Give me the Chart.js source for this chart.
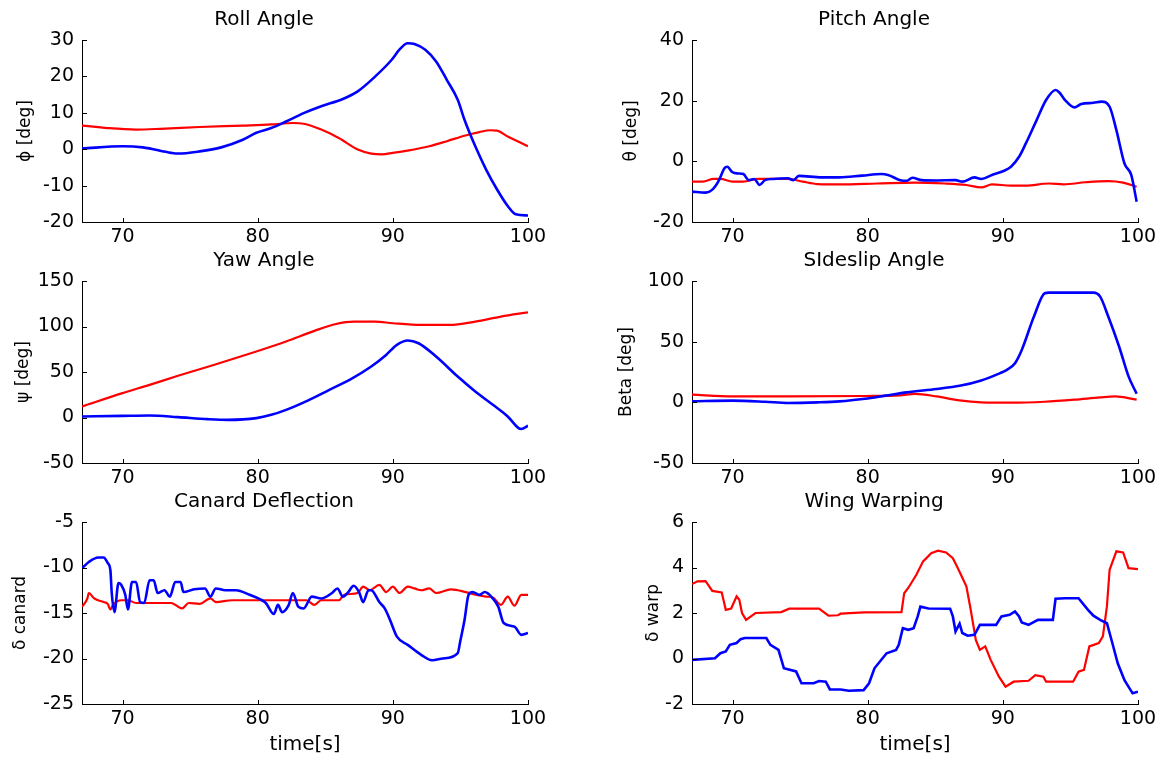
<!DOCTYPE html>
<html lang="en">
<head>
<meta charset="UTF-8">
<title>Flight data</title>
<script src="https://cdn.jsdelivr.net/npm/chart.js"></script>
<style>
  html, body { margin: 0; padding: 0; background: #fff; overflow: hidden; }
  body { width: 1164px; height: 761px; position: relative; }
  .panel { position: absolute; }
</style>
</head>
<body>

<div class="panel" style="left:0px;top:0px"><canvas id="roll" width="556" height="252"></canvas></div>
<div class="panel" style="left:610px;top:0px"><canvas id="pitch" width="556" height="252"></canvas></div>
<div class="panel" style="left:0px;top:241px"><canvas id="yaw" width="556" height="252"></canvas></div>
<div class="panel" style="left:610px;top:241px"><canvas id="sideslip" width="556" height="252"></canvas></div>
<div class="panel" style="left:0px;top:482px"><canvas id="canard" width="556" height="277"></canvas></div>
<div class="panel" style="left:610px;top:482px"><canvas id="warp" width="556" height="277"></canvas></div>

<script>
// x axis (time) shared by all panels
const timeMin = 67;
const timeMax = 100;
const timeTicks = [70, 80, 90, 100];

// Roll angle
const rollTicks = [-20, -10, 0, 10, 20, 30];
const rollBlueT = [67, 70, 71.5, 73.6, 74.1, 75.7, 77.3, 78.9, 79.9, 81, 82.1, 83.4, 84.7, 86.3, 87.4, 88.7, 89.9, 90.5, 91.1, 91.6, 92.4, 93.2, 94, 94.8, 95.3, 96.1, 96.9, 97.7, 98.5, 99.1, 100];
const rollBlue = [0.2, 0.8, 0.5, -1.0, -1.2, -0.6, 0.5, 2.6, 4.5, 5.8, 7.6, 9.9, 11.8, 13.8, 15.9, 20, 24.5, 27.4, 29.1, 28.9, 27.3, 24.1, 19, 13.6, 8.1, 0.8, -5.6, -11, -15.6, -17.9, -18.2];
const rollRedT = [67, 68.9, 71, 72.8, 75.7, 78.9, 81, 82.6, 83.4, 84.7, 86, 87.4, 88.4, 89.2, 90, 91.1, 92.7, 94, 95.3, 96.4, 97.2, 97.7, 98.5, 100];
const rollRed = [6.5, 5.8, 5.4, 5.6, 6.1, 6.5, 6.8, 7.2, 7.0, 5.4, 3.1, -0.1, -1.2, -1.4, -1.0, -0.4, 0.8, 2.2, 3.7, 4.7, 5.2, 5.1, 3.5, 0.8];

// Pitch angle
const pitchTicks = [-20, 0, 20, 40];
const pitchBlueT = [67, 68, 68.6, 69, 69.4, 69.6, 70, 70.4, 70.8, 71.2, 71.6, 72, 72.4, 73, 74.1, 74.5, 74.9, 76.6, 77.9, 79.6, 81, 81.5, 82.4, 82.9, 83.3, 84, 85.1, 86.5, 87, 87.9, 88.4, 89.2, 90.1, 90.6, 91.2, 91.7, 92.5, 93.2, 93.9, 94.2, 94.6, 95.3, 95.8, 96.7, 97.3, 97.9, 98.4, 99, 99.5, 99.9];
const pitchBlue = [-10, -10.3, -8.9, -6.2, -2.3, -1.8, -3.6, -4, -4.2, -6.2, -5.8, -7.8, -6.2, -5.8, -5.6, -6.2, -4.8, -5.3, -5.3, -4.7, -4.2, -4.5, -6.2, -6.4, -5.4, -6.2, -6.3, -6.2, -6.7, -5.3, -5.8, -4.5, -3.1, -1.8, 1.5, 5.9, 13.6, 20.2, 23.5, 22.6, 20.2, 17.8, 18.9, 19.3, 19.7, 18, 10.3, -0.7, -4.5, -13.3];
const pitchRedT = [67, 67.8, 68.6, 69.1, 70, 70.8, 71.9, 74.1, 75.2, 76.3, 77.9, 80.7, 83.5, 85.7, 87.3, 88.4, 89.2, 90.6, 91.7, 93.4, 94.5, 96.1, 97.8, 98.9, 99.9];
const pitchRed = [-6.7, -6.7, -5.8, -5.8, -6.7, -6.7, -5.8, -5.8, -6.7, -7.5, -7.6, -7.3, -7.0, -7.3, -7.8, -8.6, -7.6, -8.0, -8.0, -7.3, -7.6, -6.9, -6.5, -7.0, -8.4];

// Yaw angle
const yawTicks = [-50, 0, 50, 100, 150];
const yawBlueT = [67, 70, 72, 74.1, 76.3, 77.8, 79.9, 81, 82.1, 83.7, 85.3, 86.8, 88.4, 89.5, 90.3, 91.1, 91.9, 93.2, 94.8, 96.1, 97.4, 98.5, 99.3, 99.5, 100];
const yawBlue = [1.1, 1.8, 2.2, 0.4, -1.8, -2.6, -0.7, 2.9, 8.4, 18.6, 30.4, 41.3, 56, 68.8, 79.8, 84.6, 81.6, 67, 45, 28.6, 14, 1.1, -11.7, -12.7, -9.1];
const yawRedT = [67, 70, 72, 74.1, 76.8, 79.9, 82.1, 84.2, 85.8, 87.1, 88.7, 90, 92.1, 94.2, 96.1, 98, 100];
const yawRed = [12.2, 26.8, 35.9, 45.8, 57.9, 72.5, 83.5, 95.2, 102.8, 105.4, 105.4, 103.6, 101.7, 101.7, 105.4, 110.9, 115.6];

// Sideslip angle
const slipTicks = [-50, 0, 50, 100];
const slipBlueT = [67, 70, 72.4, 74.1, 76.3, 77.9, 79.8, 81.3, 82.9, 85.1, 86.8, 88.4, 89.8, 90.3, 90.9, 91.4, 92.3, 93.1, 93.4, 96.7, 97.2, 97.8, 98.6, 99.3, 99.9];
const slipBlue = [0.8, 1.4, 0.5, -0.5, 0, 0.8, 3, 5.5, 8.2, 11, 13.6, 18, 24.1, 26.8, 32.3, 43.2, 70.7, 89.9, 90.4, 90.4, 87.1, 70.7, 46, 21.4, 7.1];
const slipRedT = [67, 70, 74.1, 79.8, 82.4, 83.5, 85.1, 86.8, 88.4, 90.6, 93.1, 95.3, 97.2, 98.3, 99.9];
const slipRed = [6.3, 4.9, 4.9, 5.2, 5.8, 6.9, 4.9, 1.6, 0, -0.3, 0.5, 2.2, 4.1, 4.9, 2.2];

// Canard deflection
const canardTicks = [-25, -20, -15, -10, -5];
const canardBlueT = [67, 67.5, 68.2, 68.6, 68.9, 69.1, 69.2, 69.4, 69.7, 69.9, 70.2, 70.4, 70.7, 71, 71.3, 71.6, 72, 72.3, 72.6, 73.1, 73.5, 73.9, 74.3, 74.5, 75.3, 76.1, 76.5, 76.9, 77.6, 78.4, 79.4, 80.2, 80.6, 81.2, 81.5, 81.8, 82.3, 82.6, 83, 83.4, 84, 84.7, 85.5, 85.9, 86.3, 86.7, 87.1, 87.5, 87.8, 88.2, 88.4, 89, 89.4, 89.8, 90.3, 91.1, 92.1, 92.9, 93.7, 94.8, 95, 95.3, 95.6, 95.9, 96.4, 96.8, 97.4, 97.8, 98.2, 99, 99.5, 100];
const canardBlue = [-10.1, -9.4, -8.9, -8.9, -9.5, -10.3, -12.8, -14.9, -11.7, -11.9, -13, -14.6, -11.6, -11.6, -13.8, -13.9, -11.4, -11.4, -12.8, -12.5, -13.2, -11.6, -11.6, -12.7, -12.4, -12.3, -13.2, -12.3, -12.5, -12.5, -13, -13.5, -13.9, -15.1, -14.1, -14.9, -14.1, -12.8, -14.3, -14.5, -13.2, -13.4, -12.8, -12.3, -13.2, -12.7, -12, -12.7, -13.8, -12.5, -12.5, -13.8, -14.5, -15.8, -17.6, -18.5, -19.6, -20.2, -20, -19.4, -18, -15.8, -13, -12.7, -13, -12.7, -13.4, -14.3, -16.1, -16.5, -17.4, -17.2];
const canardRedT = [67, 67.4, 67.5, 67.9, 68.6, 68.9, 69.1, 69.3, 69.9, 70.4, 71, 72, 73.6, 74.4, 74.9, 75.7, 76.5, 76.9, 78.1, 79.4, 80.7, 82.6, 83.6, 84.2, 84.7, 86, 86.4, 87.4, 87.8, 88.3, 89, 89.5, 90, 90.5, 91.1, 91.6, 92.1, 92.7, 93.2, 94.3, 95.4, 96.1, 96.9, 97.4, 98, 98.5, 99, 99.5, 100];
const canardRed = [-14.3, -13.4, -12.8, -13.4, -13.8, -14, -14.6, -14.1, -13.6, -13.6, -13.9, -13.9, -13.9, -14.5, -13.9, -14, -13.4, -13.8, -13.6, -13.6, -13.6, -13.6, -13.6, -14.1, -13.6, -13.6, -13, -12.8, -12.1, -12.5, -11.9, -12.7, -12.1, -12.8, -12.1, -12.3, -12.5, -12.3, -12.8, -12.4, -12.7, -13, -13.2, -13.3, -14.1, -13.2, -14.2, -13, -13];

// Wing warping
const warpTicks = [-2, 0, 2, 4, 6];
const warpBlueT = [67, 68.7, 69.1, 69.5, 69.8, 70.3, 70.6, 70.9, 72.5, 72.8, 73.4, 73.8, 74.7, 75.1, 76, 76.4, 76.9, 77.2, 78, 78.6, 79.7, 80.1, 80.5, 81.4, 82.1, 82.3, 82.6, 83, 83.4, 83.7, 83.9, 84.5, 86.1, 86.3, 86.5, 86.8, 87, 87.4, 87.9, 88.3, 89.5, 89.9, 90.5, 90.9, 91.2, 91.4, 91.9, 92.6, 93.7, 93.9, 94.6, 95.6, 96.3, 96.7, 97.2, 97.7, 98.1, 98.5, 99, 99.6, 100];
const warpBlue = [-0.06, 0.01, 0.23, 0.31, 0.6, 0.68, 0.85, 0.9, 0.9, 0.6, 0.38, -0.43, -0.57, -1.09, -1.09, -0.99, -1.02, -1.36, -1.36, -1.42, -1.39, -1.09, -0.43, 0.23, 0.38, 0.6, 1.33, 1.26, 1.33, 1.85, 2.28, 2.2, 2.19, 1.85, 1.19, 1.53, 1.12, 1, 1.04, 1.48, 1.48, 1.85, 1.92, 2.07, 1.85, 1.58, 1.48, 1.7, 1.7, 2.63, 2.65, 2.65, 2.14, 1.88, 1.7, 1.55, 0.68, -0.21, -0.95, -1.53, -1.46];
const warpRedT = [67, 67.4, 68, 68.2, 68.5, 69.2, 69.3, 69.5, 69.9, 70.3, 70.5, 70.7, 71, 71.7, 73.6, 74.2, 76.4, 77.1, 77.8, 78, 79.7, 82.5, 82.7, 83, 83.6, 84.1, 84.7, 85.2, 85.8, 86.3, 86.6, 86.9, 87.3, 87.6, 88, 88.3, 88.7, 89.1, 89.7, 90.2, 90.8, 91.9, 92.4, 93, 93.2, 95.2, 95.6, 96, 96.4, 97.1, 97.4, 97.7, 97.9, 98.4, 98.9, 99.3, 100];
const warpRed = [3.27, 3.39, 3.4, 3.24, 2.97, 2.9, 2.65, 2.14, 2.2, 2.73, 2.58, 2, 1.7, 2, 2.04, 2.19, 2.19, 1.88, 1.9, 1.97, 2.03, 2.04, 2.87, 3.1, 3.68, 4.27, 4.63, 4.74, 4.66, 4.41, 4.05, 3.68, 3.17, 2.22, 0.82, 0.38, 0.53, -0.06, -0.79, -1.24, -1.02, -0.98, -0.73, -0.8, -1.02, -1.02, -0.58, -0.5, 0.53, 0.68, 0.97, 2.29, 3.9, 4.71, 4.66, 3.97, 3.93];

Chart.defaults.font.family = "'DejaVu Sans', sans-serif";
Chart.defaults.color = '#000';

// MATLAB style ticks pointing into the axes
const inwardTicks = {
  id: 'inwardTicks',
  afterDraw(chart) {
    const { ctx, chartArea: a, scales: { x, y } } = chart;
    ctx.save();
    ctx.strokeStyle = '#000';
    ctx.lineWidth = 1;
    ctx.beginPath();
    x.ticks.forEach(t => {
      const px = Math.round(x.getPixelForValue(t.value)) + 0.5;
      ctx.moveTo(px, a.bottom);
      ctx.lineTo(px, a.bottom - 4);
    });
    y.ticks.forEach(t => {
      const py = Math.round(y.getPixelForValue(t.value)) + 0.5;
      ctx.moveTo(a.left, py);
      ctx.lineTo(a.left + 5, py);
    });
    ctx.stroke();
    ctx.restore();
  }
};

function pts(t, v) {
  return t.map((x, i) => ({ x: x, y: v[i] }));
}

function makePanel(id, opt) {
  const smooth = opt.smooth ? 'monotone' : 'default';
  new Chart(document.getElementById(id), {
    type: 'line',
    data: {
      datasets: [
        { data: pts(opt.blueT, opt.blue), borderColor: '#0000ff', borderWidth: 2.6, cubicInterpolationMode: smooth },
        { data: pts(opt.redT, opt.red), borderColor: '#ff0000', borderWidth: 2.2, cubicInterpolationMode: smooth }
      ]
    },
    options: {
      responsive: false,
      animation: false,
      events: [],
      layout: { padding: { left: 0, right: 28, top: 0, bottom: 0 } },
      elements: { point: { radius: 0 }, line: { tension: 0 } },
      plugins: {
        legend: { display: false },
        tooltip: { enabled: false },
        title: {
          display: true,
          text: opt.title,
          font: { size: 20, weight: 'normal' },
          padding: { top: 8, bottom: 8 }
        }
      },
      scales: {
        x: {
          type: 'linear',
          min: timeMin,
          max: timeMax,
          afterBuildTicks: s => { s.ticks = timeTicks.map(v => ({ value: v })); },
          afterFit: s => { s.height = opt.xTitle ? 55 : 30; },
          grid: { drawOnChartArea: false, drawTicks: false },
          border: { display: true, color: '#000', width: 1 },
          ticks: { font: { size: 19 }, padding: 4, maxRotation: 0 },
          title: {
            display: !!opt.xTitle,
            text: opt.xTitle || '',
            font: { size: 20 },
            padding: { top: 0, bottom: 2 }
          }
        },
        y: {
          type: 'linear',
          min: opt.yTicks[0],
          max: opt.yTicks[opt.yTicks.length - 1],
          afterBuildTicks: s => { s.ticks = opt.yTicks.map(v => ({ value: v })); },
          afterFit: s => { s.width = 82; },
          grid: { drawOnChartArea: false, drawTicks: false },
          border: { display: true, color: '#000', width: 1 },
          ticks: { font: { size: 19 }, padding: 8 },
          title: {
            display: true,
            text: opt.yTitle,
            font: { size: 17 },
            padding: { top: opt.yPad, bottom: 0 }
          }
        }
      }
    },
    plugins: [inwardTicks]
  });
}

makePanel('roll', { title: 'Roll Angle', yTitle: 'ϕ [deg]', yPad: 15, yTicks: rollTicks, smooth: true,
  blueT: rollBlueT, blue: rollBlue, redT: rollRedT, red: rollRed });
makePanel('pitch', { title: 'Pitch Angle', yTitle: 'θ [deg]', yPad: 11, yTicks: pitchTicks, smooth: true,
  blueT: pitchBlueT, blue: pitchBlue, redT: pitchRedT, red: pitchRed });
makePanel('yaw', { title: 'Yaw Angle', yTitle: 'ψ [deg]', yPad: 13, yTicks: yawTicks, smooth: true,
  blueT: yawBlueT, blue: yawBlue, redT: yawRedT, red: yawRed });
makePanel('sideslip', { title: 'SIdeslip Angle', yTitle: 'Beta [deg]', yPad: 6, yTicks: slipTicks, smooth: true,
  blueT: slipBlueT, blue: slipBlue, redT: slipRedT, red: slipRed });
makePanel('canard', { title: 'Canard Deflection', yTitle: 'δ canard', yPad: 10, yTicks: canardTicks, smooth: true,
  xTitle: 'time[s]', blueT: canardBlueT, blue: canardBlue, redT: canardRedT, red: canardRed });
makePanel('warp', { title: 'Wing Warping', yTitle: 'δ warp', yPad: 33, yTicks: warpTicks, smooth: false,
  xTitle: 'time[s]', blueT: warpBlueT, blue: warpBlue, redT: warpRedT, red: warpRed });
</script>
</body>
</html>
